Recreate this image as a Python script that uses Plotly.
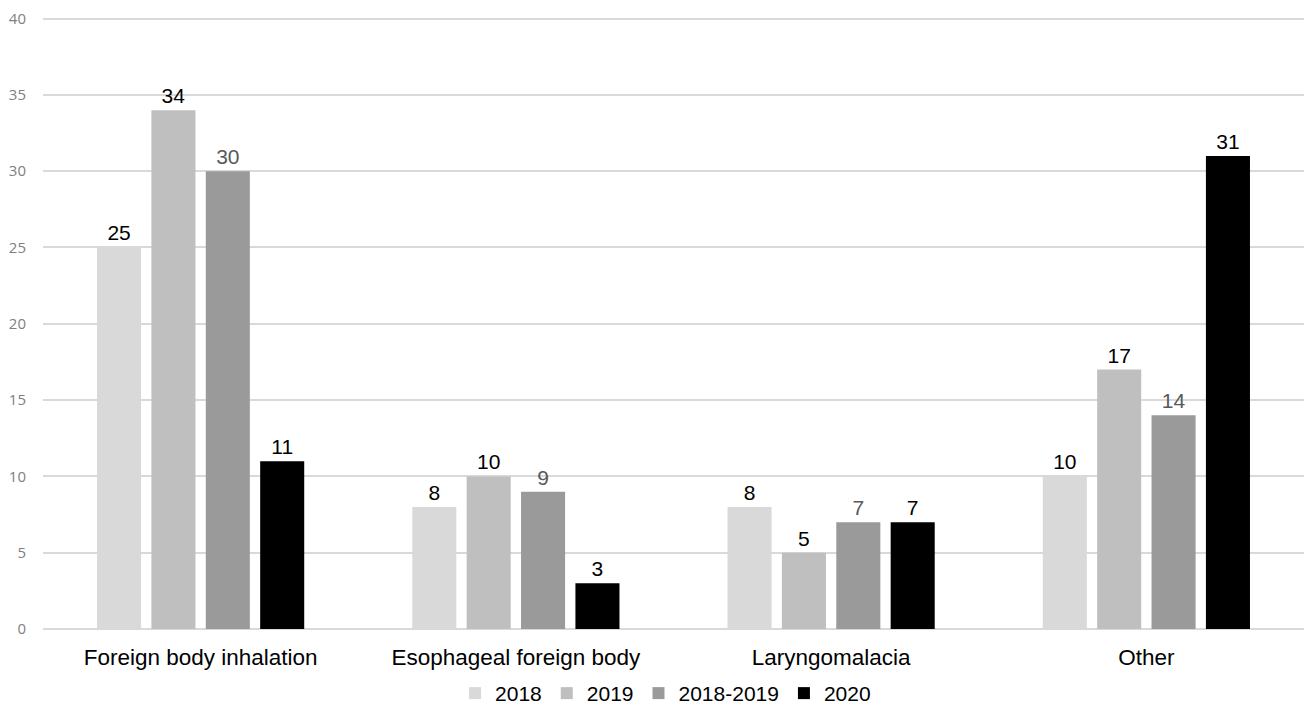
import plotly.graph_objects as go

categories = ["Foreign body inhalation", "Esophageal foreign body", "Laryngomalacia", "Other"]
series_names = ["2018", "2019", "2018-2019", "2020"]
v2018 = [25, 8, 8, 10]
v2019 = [34, 10, 5, 17]
v1819 = [30, 9, 7, 14]
v2020 = [11, 3, 7, 31]
values = [v2018, v2019, v1819, v2020]
colors = ["#d9d9d9", "#bfbfbf", "#9a9a9a", "#000000"]
label_colors = ["#000000", "#000000", "#595959", "#000000"]
y_ticks = [0, 5, 10, 15, 20, 25, 30, 35, 40]

fig = go.Figure()
for name, vals, c, lc in zip(series_names, values, colors, label_colors):
    fig.add_trace(go.Bar(
        x=categories, y=vals, name=name, marker_color=c, marker_line_width=0,
        text=vals, textposition="outside", cliponaxis=False,
        textfont=dict(family="Liberation Sans, Arial", size=21, color=lc),
    ))

fig.update_layout(
    width=1296, height=697,
    margin=dict(l=35, r=0, t=6, b=76, autoexpand=False),
    paper_bgcolor="white", plot_bgcolor="white",
    barmode="group", bargap=0.31, bargroupgap=0.19,
    showlegend=True,
    legend=dict(orientation="h", x=0.4937, xanchor="center", y=-0.0715, yanchor="top",
                font=dict(family="Liberation Sans, Arial", size=21, color="#000000"),
                traceorder="normal"),
    xaxis=dict(showline=False, ticks="", showgrid=False, automargin=False,
               ticklabelstandoff=12,
               tickfont=dict(family="Liberation Sans, Arial", size=22.5, color="#000000")),
    yaxis=dict(range=[0, 40.3], tickvals=y_ticks, showgrid=True, gridcolor="#d9d9d9", gridwidth=2,
               zeroline=True, zerolinecolor="#d9d9d9", zerolinewidth=2, automargin=False,
               showline=False, ticks="", ticklabelstandoff=16, ticklabeloverflow="allow",
               tickfont=dict(family="Open Sans", size=15, color="#808080")),
)
fig.write_html("out.html")
